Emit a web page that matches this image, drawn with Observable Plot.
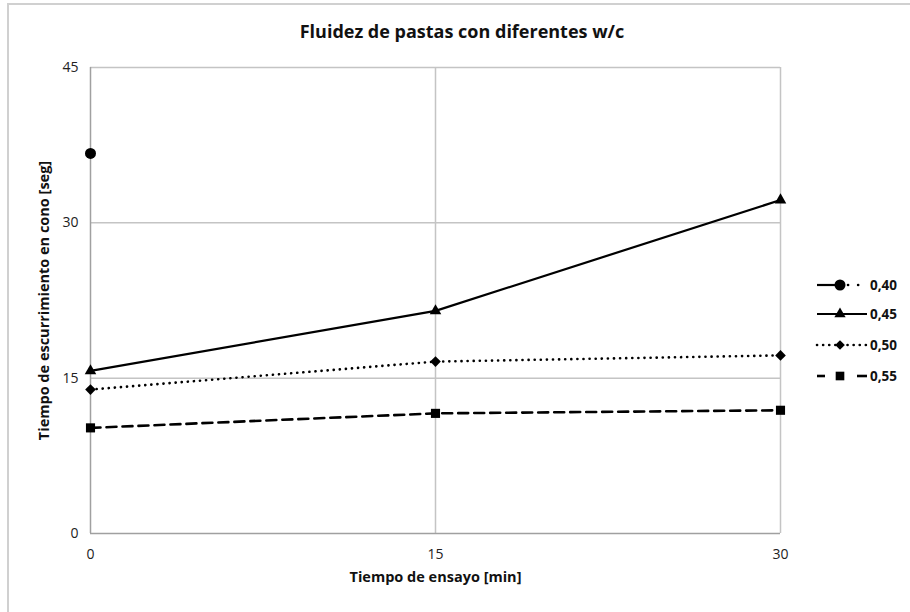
<!DOCTYPE html>
<html>
<head>
<meta charset="utf-8">
<script src="https://cdn.jsdelivr.net/npm/d3@7"></script>
<script src="https://cdn.jsdelivr.net/npm/@observablehq/plot@0.6"></script>
<style>
  body { margin: 0; background: #fff; }
  #wrap { position: relative; width: 910px; height: 612px; overflow: hidden; background: #fff; font-family: "Open Sans", Lato, sans-serif; }
  #frameL { position: absolute; left: 7px; top: 3px; width: 2px; height: 620px; background: #d0d0d0; }
  #frameT { position: absolute; left: 7px; top: 3px; width: 910px; height: 2px; background: #d0d0d0; }
  #title { position: absolute; left: 0; width: 924px; top: 19px; text-align: center; font-weight: bold; font-size: 18px; color: #111; }
  #chart { position: absolute; left: 0; top: 0; }
  #legend { position: absolute; left: 800px; top: 260px; }
</style>
</head>
<body>
<div id="wrap">
  <div id="frameL"></div>
  <div id="frameT"></div>
  <div id="chart"></div>
  <div id="title">Fluidez de pastas con diferentes w/c</div>
  <svg id="legend" width="110" height="140"></svg>
</div>
<script>
const times = [0, 15, 30];
const seriesNames = ["0,40", "0,45", "0,50", "0,55"];
const w040 = [36.7, null, null];
const w045 = [15.7, 21.5, 32.2];
const w050 = [13.9, 16.6, 17.2];
const w055 = [10.2, 11.6, 11.9];
const yTicks = [0, 15, 30, 45];
const xTicks = [0, 15, 30];
const titleX = "Tiempo de ensayo [min]";
const titleY = "Tiempo de escurrimiento en cono [seg]";

function rows(vals) {
  return times.map((t, i) => ({t, v: vals[i]})).filter(d => d.v != null);
}
const d040 = rows(w040), d045 = rows(w045), d050 = rows(w050), d055 = rows(w055);

const font = "'Open Sans', Lato, sans-serif";
const chart = Plot.plot({
  width: 910,
  height: 612,
  marginLeft: 90,
  marginRight: 130,
  marginTop: 67,
  marginBottom: 79,
  style: {fontFamily: font, fontSize: "14px", color: "#222", background: "transparent"},
  x: {domain: [0, 30], ticks: xTicks},
  y: {domain: [0, 45], ticks: yTicks},
  marks: [
    Plot.gridY(yTicks.filter(d => d > 0), {stroke: "#c4c4c4", strokeOpacity: 1, strokeWidth: 1.5}),
    Plot.gridX(xTicks.filter(d => d > 0), {stroke: "#c4c4c4", strokeOpacity: 1, strokeWidth: 1.5}),
    Plot.ruleY([0], {stroke: "#a0a0a0", strokeWidth: 1.5}),
    Plot.ruleX([0], {stroke: "#a0a0a0", strokeWidth: 1.5}),
    Plot.axisY(yTicks, {tickSize: 0, tickPadding: 12, label: null, fontSize: 14}),
    Plot.axisX(xTicks, {tickSize: 0, tickPadding: 16, label: null, fontSize: 14}),
    Plot.text([titleY], {frameAnchor: "left", textAnchor: "middle", dx: -46, rotate: -90, fontWeight: "bold", fontSize: 14.5, fill: "#111"}),
    Plot.text([titleX], {frameAnchor: "bottom", dy: 48, fontWeight: "bold", fontSize: 14.5, fill: "#111"}),
    Plot.line(d045, {x: "t", y: "v", stroke: "#000", strokeWidth: 2.2}),
    Plot.line(d050, {x: "t", y: "v", stroke: "#000", strokeWidth: 2.6, strokeDasharray: "0.1,6", strokeLinecap: "round"}),
    Plot.line(d055, {x: "t", y: "v", stroke: "#000", strokeWidth: 2.6, strokeDasharray: "10,6"}),
    Plot.dot(d040, {x: "t", y: "v", symbol: "circle", r: 5.5, fill: "#000"}),
    Plot.dot(d045, {x: "t", y: "v", symbol: "triangle", r: 4.3, fill: "#000"}),
    Plot.dot(d050, {x: "t", y: "v", symbol: "diamond2", r: 4.8, fill: "#000"}),
    Plot.dot(d055, {x: "t", y: "v", symbol: "square2", r: 5.8, fill: "#000"})
  ]
});
document.getElementById("chart").appendChild(chart);

// legend
const lg = d3.select("#legend");
const rowsY = [25, 54, 85, 116];
const x0 = 17, x1 = 67, xm = 40;
const sym = [d3.symbolCircle, d3.symbolTriangle, d3.symbolDiamond2, d3.symbolSquare2];
const sizes = [95, 55, 60, 95];
seriesNames.forEach((name, i) => {
  const y = rowsY[i];
  const g = lg.append("g");
  if (i === 0) {
    g.append("line").attr("x1", x0).attr("x2", xm).attr("y1", y).attr("y2", y).attr("stroke", "#000").attr("stroke-width", 2.2);
    g.append("line").attr("x1", xm + 8).attr("x2", x1).attr("y1", y).attr("y2", y).attr("stroke", "#000").attr("stroke-width", 2.6)
      .attr("stroke-dasharray", "0.1,10").attr("stroke-linecap", "round");
  } else if (i === 1) {
    g.append("line").attr("x1", x0).attr("x2", x1).attr("y1", y).attr("y2", y).attr("stroke", "#000").attr("stroke-width", 2.2);
  } else if (i === 2) {
    g.append("line").attr("x1", x0).attr("x2", x1).attr("y1", y).attr("y2", y).attr("stroke", "#000").attr("stroke-width", 2.6)
      .attr("stroke-dasharray", "0.1,6").attr("stroke-linecap", "round");
  } else {
    g.append("line").attr("x1", x0).attr("x2", x0 + 8).attr("y1", y).attr("y2", y).attr("stroke", "#000").attr("stroke-width", 2.6);
    g.append("line").attr("x1", x1 - 10).attr("x2", x1).attr("y1", y).attr("y2", y).attr("stroke", "#000").attr("stroke-width", 2.6);
  }
  g.append("path").attr("d", d3.symbol(sym[i], sizes[i])()).attr("transform", `translate(${xm},${y})`).attr("fill", "#000");
  g.append("text").attr("x", x1 + 3).attr("y", y).attr("dy", "0.35em").attr("font-family", font)
    .attr("font-size", 13.5).attr("font-weight", "bold").attr("fill", "#111").text(name);
});
</script>
</body>
</html>
